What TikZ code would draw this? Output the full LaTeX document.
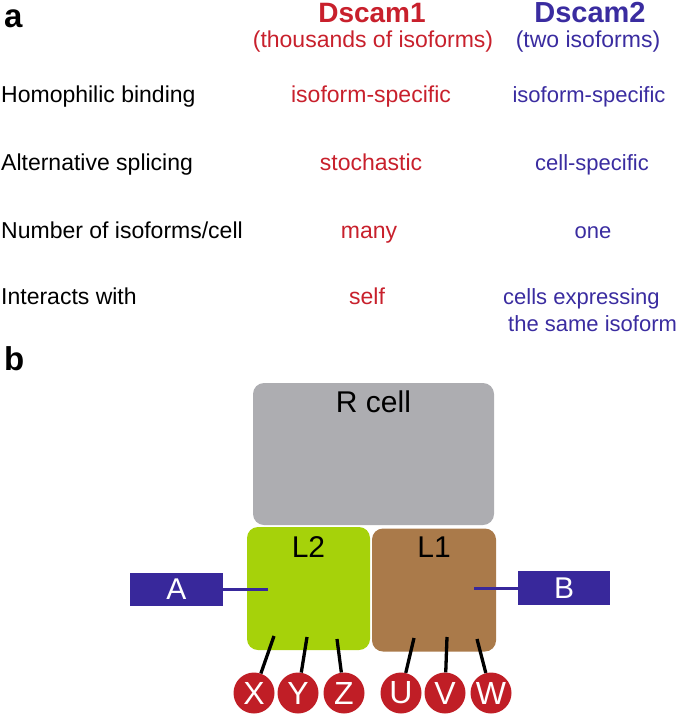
\documentclass[tikz,border=0pt]{standalone}
\usepackage{fontspec}
\setmainfont{Liberation Sans}
\usetikzlibrary{positioning}
\definecolor{dsred}{RGB}{200,32,44}
\definecolor{dsblue}{RGB}{58,44,160}
\definecolor{rgray}{RGB}{173,173,177}
\definecolor{lgreen}{RGB}{166,210,10}
\definecolor{lbrown}{RGB}{170,122,74}
\definecolor{boxblue}{RGB}{56,40,155}
\definecolor{isored}{RGB}{192,30,38}
\begin{document}
\begin{tikzpicture}[x=1pt, y=-1pt,
    panel/.style={anchor=base west, inner sep=0pt, font=\fontsize{33}{38}\selectfont\bfseries},
    rowlabel/.style={anchor=base west, inner sep=0pt, font=\fontsize{23}{27}\selectfont},
    redtext/.style={anchor=base, inner sep=0pt, text=dsred, font=\fontsize{23}{27}\selectfont},
    bluetext/.style={anchor=base, inner sep=0pt, text=dsblue, font=\fontsize{22}{26}\selectfont},
    cellbox/.style={rectangle, rounded corners=11pt, inner sep=0pt},
    celltext/.style={anchor=base, inner sep=0pt, font=\fontsize{30}{34}\selectfont},
    ligand/.style={rectangle, fill=boxblue, text=white, inner sep=0pt, minimum width=93pt, minimum height=33pt, font=\fontsize{30}{34}\selectfont},
    bind/.style={draw=boxblue, line width=3pt},
    isoform/.style={circle, fill=isored, text=white, inner sep=0pt, minimum size=41pt, font=\fontsize{32}{36}\selectfont},
    stick/.style={draw=black, line width=3.3pt}
]
\useasboundingbox (0,0) rectangle (685,717);

% a: table
\node[panel] (pa) at (4,28) {a};
\node[redtext, font=\fontsize{28}{32}\selectfont\bfseries] (head1) at (372,23) {Dscam1};
\node[redtext] (sub1) at (373,48) {(thousands of isoforms)};
\node[bluetext, font=\fontsize{29}{33}\selectfont\bfseries] (head2) at (590,23) {Dscam2};
\node[bluetext, font=\fontsize{23}{27}\selectfont] (sub2) at (588,48) {(two isoforms)};

\node[rowlabel] (row1) at (1,102) {Homophilic binding};
\node[redtext] (red1) at (371,102) {isoform-specific};
\node[bluetext] (blue1) at (589,102) {isoform-specific};

\node[rowlabel] (row2) at (1,170) {Alternative splicing};
\node[redtext] (red2) at (371,170) {stochastic};
\node[bluetext] (blue2) at (592,170) {cell-specific};

\node[rowlabel] (row3) at (1,238) {Number of isoforms/cell};
\node[redtext] (red3) at (369,238) {many};
\node[bluetext] (blue3) at (593,238) {one};

\node[rowlabel] (row4) at (1,304) {Interacts with};
\node[redtext] (red4) at (367,304) {self};
\node[bluetext, anchor=base west] (blue4) at (503,304) {cells expressing};
\node[bluetext, anchor=base west] (blue5) at (508,331) {the same isoform};

% b: cells
\node[panel] (pb) at (4,370) {b};
\node[cellbox, fill=rgray, minimum width=241pt, minimum height=142pt] (rcell) at (373.5,454) {};
\node[celltext] (rlabel) at ([yshift=-30pt]rcell.north) {R cell};
\node[cellbox, fill=lgreen, minimum width=123pt, minimum height=123pt] (l2) at (308.5,588.5) {};
\node[celltext] (l2label) at ([yshift=-31pt]l2.north) {L2};
\node[cellbox, fill=lbrown, minimum width=124pt, minimum height=123pt] (l1) at (434,590) {};
\node[celltext] (l1label) at ([yshift=-29pt]l1.north) {L1};

\node[ligand] (abox) at (176.5,589.5) {A};
\node[ligand, minimum width=92pt, minimum height=34pt] (bbox) at (564,588) {B};
\coordinate (l2bind) at (268,589.5);
\coordinate (l1bind) at (474,588);
\draw[bind] (abox.east) -- (l2bind);
\draw[bind] (bbox.west) -- (l1bind);

% isoforms
\foreach \n/\x/\sx/\sy in {X/254/274/636, Y/298/307/637, Z/344/337/639, U/401/414/638, V/445/447/637, W/491/477/639} {
    \node[isoform] (c\n) at (\x,693) {\n};
    \coordinate (s\n) at (\sx,\sy);
    \draw[stick] (s\n) -- (c\n);
}
\end{tikzpicture}
\end{document}
